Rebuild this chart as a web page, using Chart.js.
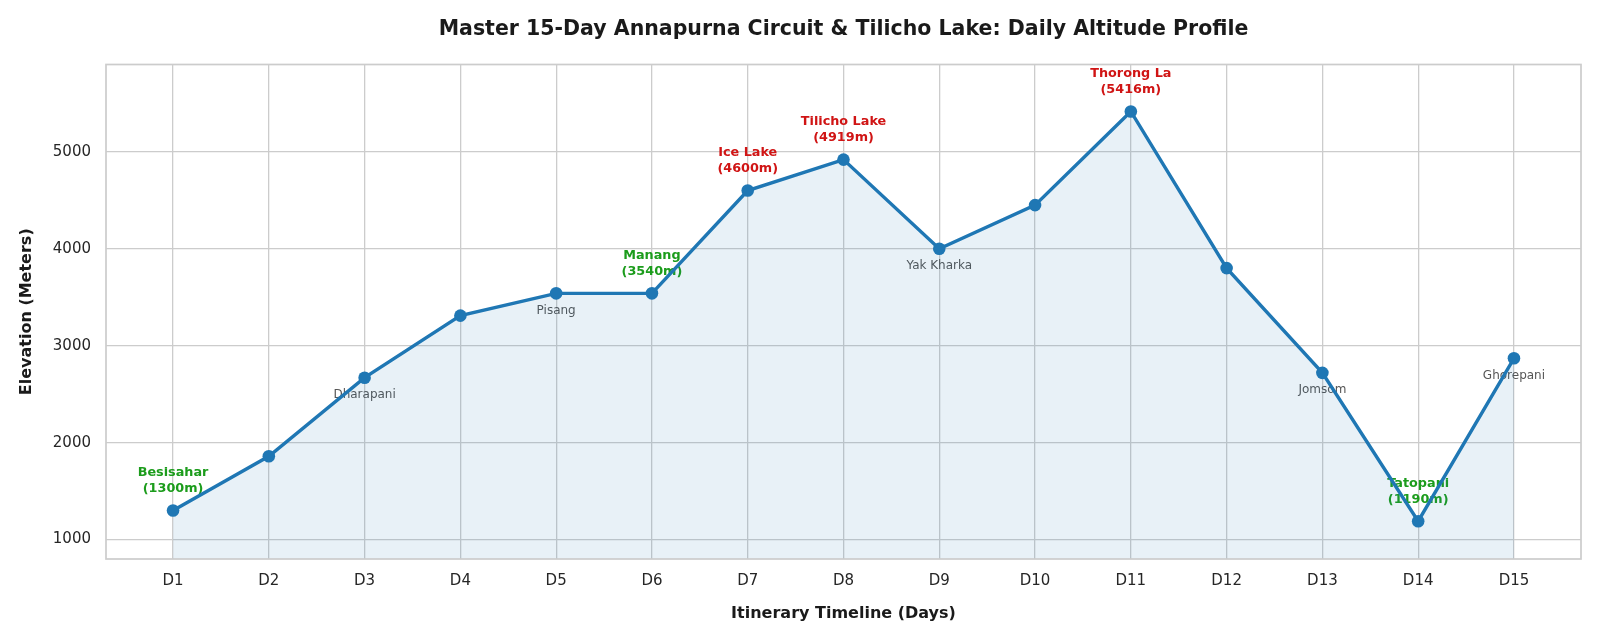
<!DOCTYPE html>
<html><head><meta charset="utf-8">
<script src="https://cdn.jsdelivr.net/npm/chart.js@4"></script>
<style>html,body{margin:0;padding:0;background:#fff}#wrap{width:1600px;height:640px}</style>
</head><body><div id="wrap"><canvas id="c" width="1600" height="640"></canvas></div>
<script>
// ---- data ----
const days = ['D1','D2','D3','D4','D5','D6','D7','D8','D9','D10','D11','D12','D13','D14','D15'];
const elevations = [1300, 1860, 2670, 3310, 3540, 3540, 4600, 4919, 4000, 4450, 5416, 3800, 2720, 1190, 2870];
const stopNames = ['Besisahar','', 'Dharapani','', 'Pisang','Manang','Ice Lake','Tilicho Lake','Yak Kharka','', 'Thorong La','', 'Jomsom','Tatopani','Ghorepani'];
const stopKinds = ['base','', 'minor','', 'minor','base','high','high','minor','', 'high','', 'minor','base','minor'];
const yTicks = [1000, 2000, 3000, 4000, 5000];
const titleText = 'Master 15-Day Annapurna Circuit & Tilicho Lake: Daily Altitude Profile';
const xTitle = 'Itinerary Timeline (Days)';
const yTitle = 'Elevation (Meters)';

const FONT = "'DejaVu Sans', sans-serif";
const GRID = '#cccccc';

const annotPlugin = {
  id: 'annot',
  beforeDatasetsDraw(chart) {
    const ctx = chart.ctx, xs = chart.scales.x, ys = chart.scales.y;
    stopNames.forEach((name, i) => {
      if (!name) return;
      const px = xs.getPixelForValue(i + 1), py = ys.getPixelForValue(elevations[i]);
      const kind = stopKinds[i];
      ctx.save();
      ctx.textAlign = 'center';
      ctx.textBaseline = 'middle';
      if (kind === 'minor') {
        ctx.font = '12px ' + FONT;
        ctx.fillStyle = '#555555';
        ctx.fillText(name, px, py + 17.5);
      } else {
        ctx.font = 'bold 12.8px ' + FONT;
        ctx.fillStyle = kind === 'high' ? '#d01414' : '#1c9c1c';
        ctx.fillText(name, px, py - 37.6);
        ctx.fillText('(' + elevations[i] + 'm)', px, py - 22);
      }
      ctx.restore();
    });
  }
};
const framePlugin = {
  id: 'frame',
  afterDatasetsDraw(chart) {
    const a = chart.chartArea, ctx = chart.ctx;
    ctx.save();
    ctx.strokeStyle = GRID;
    ctx.lineWidth = 1.7;
    ctx.strokeRect(a.left, a.top, a.right - a.left, a.bottom - a.top);
    ctx.restore();
  }
};

new Chart(document.getElementById('c'), {
  type: 'line',
  data: {
    datasets: [{
      data: days.map((d, i) => ({x: i + 1, y: elevations[i]})),
      borderColor: '#1f77b4',
      borderWidth: 3.4,
      backgroundColor: 'rgba(31,119,180,0.1)',
      fill: 'start',
      tension: 0,
      pointRadius: 6.3,
      pointHoverRadius: 6.3,
      pointBackgroundColor: '#1f77b4',
      pointBorderWidth: 0
    }]
  },
  options: {
    responsive: false,
    animation: false,
    devicePixelRatio: 1,
    layout: {padding: {left: 0, right: 19, top: 0, bottom: 0}},
    plugins: {
      legend: {display: false},
      tooltip: {enabled: false},
      title: {
        display: true, text: titleText, fullSize: false,
        color: '#1a1a1a',
        font: {family: FONT, size: 20.5, weight: 'bold'},
        padding: {top: 17.3, bottom: 22.6}
      }
    },
    scales: {
      x: {
        type: 'linear', min: 0.3, max: 15.7,
        afterFit: s => { s.height = 81; },
        ticks: {
          stepSize: 1, includeBounds: false, autoSkip: false, maxRotation: 0,
          callback: v => (Number.isInteger(v) ? days[v - 1] : ''),
          color: '#262626', font: {family: FONT, size: 15}, padding: 13
        },
        grid: {color: GRID, lineWidth: 1.3, drawTicks: false},
        border: {display: false},
        title: {display: true, text: xTitle, color: '#1a1a1a',
          font: {family: FONT, size: 16, weight: 'bold'}, padding: {top: 0, bottom: 16.7}}
      },
      y: {
        min: 800, max: 5900,
        afterFit: s => { s.width = 106; },
        afterBuildTicks: s => { s.ticks = yTicks.map(v => ({value: v})); },
        ticks: {color: '#262626', font: {family: FONT, size: 15}, padding: 15,
          callback: v => String(v)},
        grid: {color: GRID, lineWidth: 1.3, drawTicks: false},
        border: {display: false},
        title: {display: true, text: yTitle, color: '#1a1a1a',
          font: {family: FONT, size: 16, weight: 'bold'}, padding: {top: 17.4, bottom: 0}}
      }
    }
  },
  plugins: [annotPlugin, framePlugin]
});
</script></body></html>
